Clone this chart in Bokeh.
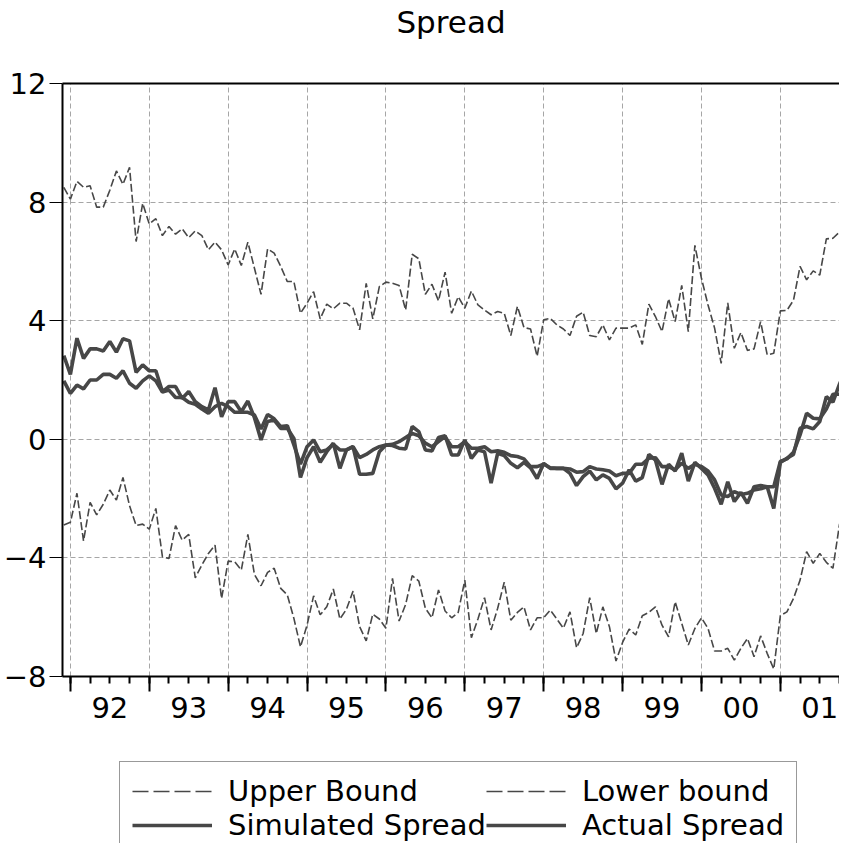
import pandas as pd
from bokeh.plotting import figure
from bokeh.layouts import column
from bokeh.models import (LinearAxis, FixedTicker, Grid, Range1d, Legend,
                          LegendItem)
from bokeh.embed import file_html
from bokeh.resources import INLINE

# ---------------- data (monthly, Dec 1991 .. Nov 2001) ----------------
start_month = "1991-12"

upper_bound = [
    8.5, 8.1, 8.7, 8.5, 8.55, 7.83, 7.83, 8.4, 9.05, 8.6, 9.17, 6.67, 7.96,
    7.26, 7.44, 6.87, 7.18, 6.92, 7.1, 6.8, 7.03, 6.87, 6.39, 6.65, 6.39,
    5.88, 6.42, 5.86, 6.65, 5.77, 4.89, 6.42, 6.28, 5.83, 5.32, 5.32, 4.25,
    4.59, 4.98, 4.06, 4.56, 4.4, 4.59, 4.59, 4.42, 3.69, 5.26, 4.06, 5.15,
    5.3, 5.26, 5.19, 4.36, 6.24, 6.09, 4.89, 5.23, 4.67, 5.64, 4.25, 4.81,
    4.42, 5.0, 4.53, 4.36, 4.2, 4.31, 4.25, 3.5, 4.48, 3.77, 3.72, 2.8,
    4.03, 4.08, 3.86, 3.72, 3.5, 4.15, 4.29, 3.5, 3.46, 3.86, 3.35, 3.75,
    3.75, 3.75, 3.86, 3.2, 4.56, 4.14, 3.63, 4.74, 3.97, 5.19, 3.63, 6.54,
    5.43, 4.53, 3.75, 2.56, 4.6, 3.07, 3.6, 3.0, 3.05, 3.97, 2.85, 2.9,
    4.33, 4.35, 4.69, 5.83, 5.38, 5.68, 5.54, 6.76, 6.78, 6.99, 7.23,
]

lower_bound = [
    -2.89, -2.8, -1.82, -3.43, -2.13, -2.55, -2.19, -1.71, -2.05, -1.29,
    -2.24, -2.91, -2.86, -3.03, -2.33, -3.96, -4.02, -2.91, -3.4, -3.21,
    -4.67, -4.24, -3.85, -3.57, -5.37, -4.11, -4.13, -4.41, -3.21, -4.56,
    -4.94, -4.49, -4.35, -5.03, -5.25, -6.04, -7.0, -6.27, -5.28, -5.92,
    -5.65, -5.05, -6.06, -5.73, -5.12, -6.32, -6.8, -5.9, -6.06, -6.37,
    -4.69, -6.13, -5.57, -4.6, -4.78, -5.7, -6.02, -5.08, -5.79, -6.02,
    -5.84, -4.75, -6.69, -6.06, -5.34, -6.43, -5.7, -4.82, -6.1, -5.84,
    -5.65, -6.43, -6.02, -6.02, -5.76, -6.06, -6.37, -5.82, -7.03, -6.55,
    -5.34, -6.55, -5.65, -6.32, -7.48, -6.85, -6.4, -6.6, -5.95, -5.84,
    -5.65, -6.27, -6.66, -5.48, -6.21, -6.94, -6.38, -6.02, -6.38, -7.14,
    -7.14, -7.05, -7.45, -7.05, -6.72, -7.33, -6.63, -7.22, -7.75, -5.95,
    -5.82, -5.37, -4.75, -3.79, -4.18, -3.85, -4.15, -4.35, -2.87, -2.33,
]

actual_spread = [
    2.82, 2.19, 3.41, 2.73, 3.05, 3.05, 2.98, 3.3, 2.94, 3.39, 3.32, 2.26,
    2.51, 2.31, 2.31, 1.61, 1.78, 1.78, 1.38, 1.61, 1.27, 1.1, 0.99, 1.74,
    0.76, 1.27, 1.27, 0.93, 1.29, 0.73, -0.02, 0.6, 0.65, 0.37, 0.37, 0.03,
    -1.29, -0.62, -0.25, -0.78, -0.42, -0.13, -0.98, -0.36, -0.25, -1.18,
    -1.18, -1.15, -0.42, -0.19, -0.21, -0.3, -0.33, 0.43, 0.26, -0.36,
    -0.39, 0.06, 0.12, -0.53, -0.53, -0.02, -0.64, -0.36, -0.42, -1.48,
    -0.47, -0.55, -0.81, -0.96, -0.78, -0.96, -1.32, -0.81, -0.98, -0.98,
    -0.98, -1.15, -1.56, -1.26, -1.07, -1.37, -1.2, -1.32, -1.67, -1.48,
    -1.03, -1.41, -1.29, -0.51, -0.7, -1.52, -0.84, -1.07, -0.47, -1.41,
    -0.78, -0.98, -1.2, -1.65, -2.19, -1.43, -2.1, -1.79, -2.16, -1.6,
    -1.56, -1.6, -2.33, -0.78, -0.64, -0.51, 0.37, 0.43, 0.35, 0.6, 1.44,
    1.25, 1.86, 2.4,
]

simulated_spread = [
    1.97, 1.55, 1.83, 1.7, 2.0, 2.0, 2.19, 2.19, 2.06, 2.31, 1.89, 1.72,
    1.97, 2.14, 1.97, 1.59, 1.66, 1.41, 1.41, 1.25, 1.18, 1.02, 0.88, 1.1,
    1.21, 1.1, 0.91, 0.91, 0.91, 0.82, 0.35, 0.84, 0.69, 0.43, 0.46, -0.19,
    -0.84, -0.25, -0.02, -0.42, -0.36, -0.17, -0.36, -0.36, -0.25, -0.62,
    -0.51, -0.36, -0.25, -0.19, -0.17, -0.08, 0.06, 0.2, 0.12, -0.13,
    -0.25, -0.08, 0.09, -0.25, -0.25, -0.08, -0.3, -0.3, -0.25, -0.42,
    -0.39, -0.44, -0.55, -0.58, -0.66, -0.92, -0.92, -0.84, -0.96, -0.98,
    -0.98, -1.0, -1.11, -1.09, -0.92, -1.0, -1.03, -1.07, -1.23, -1.15,
    -1.15, -0.84, -0.84, -0.64, -0.62, -0.92, -0.92, -1.03, -0.81, -0.98,
    -0.84, -0.92, -1.07, -1.37, -1.88, -1.93, -1.77, -1.86, -1.82, -1.71,
    -1.67, -1.6, -1.6, -0.75, -0.66, -0.44, 0.15, 0.88, 0.71, 0.69, 1.02,
    1.52, 1.52, 1.52,
]

year_labels = ["92", "93", "94", "95", "96", "97", "98", "99", "00", "01"]
y_ticks = [-8, -4, 0, 4, 8, 12]
legend_labels = ["Upper Bound", "Lower bound", "Simulated Spread", "Actual Spread"]

# month index relative to Jan 1992
dates = pd.period_range(start_month, periods=len(upper_bound), freq="M")
x = [(d.year - 1992) * 12 + (d.month - 1) for d in dates]
year_starts = [12 * i for i in range(len(year_labels))]
quarters = [3 * i for i in range(0, 4 * len(year_labels))]
year_mids = [s + 6 for s in year_starts]

FONT = "DejaVu Sans"
LINE = "#474747"
GRID = "#a6a6a6"
DASHED = dict(line_color=LINE, line_width=1.6, line_dash="8 3")
SOLID = dict(line_color=LINE, line_width=3.6)
LEG_DASHED = dict(line_color=LINE, line_width=1.6, line_dash="16 5")
series = [upper_bound, lower_bound, simulated_spread, actual_spread]
styles = [DASHED, DASHED, SOLID, SOLID]
legend_styles = [LEG_DASHED, LEG_DASHED, SOLID, SOLID]

# ======================= main chart =======================
p = figure(frame_width=777, frame_height=593, output_backend="svg",
           toolbar_location=None, x_axis_location=None, y_axis_location=None,
           x_range=Range1d(-1.2, 117.0), y_range=Range1d(-8, 12),
           min_border_left=53, min_border_right=0, min_border_top=74,
           min_border_bottom=76)
p.outline_line_color = None
p.background_fill_color = "white"
p.border_fill_color = "white"
p.center = [c for c in p.center if not isinstance(c, Grid)]

p.add_layout(Grid(dimension=0, ticker=FixedTicker(ticks=year_starts),
                  grid_line_color=GRID, grid_line_dash="5 3", grid_line_width=1))
p.add_layout(Grid(dimension=1, ticker=FixedTicker(ticks=y_ticks),
                  grid_line_color=GRID, grid_line_dash="5 3", grid_line_width=1))

# top frame line carrying the title
top = LinearAxis(ticker=FixedTicker(ticks=[], minor_ticks=[]))
top.axis_line_width = 2
top.axis_line_color = "black"
top.major_tick_line_color = None
top.minor_tick_line_color = None
top.axis_label = "Spread"
top.axis_label_text_font = FONT
top.axis_label_text_font_size = "31px"
top.axis_label_text_font_style = "normal"
top.axis_label_text_color = "black"
top.axis_label_standoff = 44
p.add_layout(top, "above")

# y axis
yax = LinearAxis(ticker=FixedTicker(ticks=y_ticks, minor_ticks=[]))
yax.axis_line_width = 2
yax.axis_line_color = "black"
yax.major_tick_out = 13
yax.major_tick_in = 0
yax.major_tick_line_width = 1
yax.major_label_standoff = 3
yax.major_label_text_font = FONT
yax.major_label_text_font_size = "29px"
yax.major_label_text_color = "black"
p.add_layout(yax, "left")

# x axis: ticks only
xax = LinearAxis(ticker=FixedTicker(ticks=year_starts, minor_ticks=quarters))
xax.axis_line_width = 2
xax.axis_line_color = "black"
xax.major_tick_out = 15
xax.major_tick_in = 0
xax.major_tick_line_width = 2
xax.minor_tick_out = 7
xax.minor_tick_in = 0
xax.minor_tick_line_width = 2
xax.major_label_text_font_size = "1px"
xax.major_label_text_color = None
xax.major_label_standoff = 0
p.add_layout(xax, "below")

# x axis: year labels centred in each year
xlab = LinearAxis(ticker=FixedTicker(ticks=year_mids, minor_ticks=[]))
xlab.axis_line_color = None
xlab.major_tick_line_color = None
xlab.major_tick_out = 0
xlab.major_tick_in = 0
xlab.major_label_standoff = 5
xlab.major_label_overrides = {m: lab for m, lab in zip(year_mids, year_labels)}
xlab.major_label_text_font = FONT
xlab.major_label_text_font_size = "29px"
xlab.major_label_text_color = "black"
p.add_layout(xlab, "below")

for ys, st in zip(series, styles):
    p.line(x, ys, **st)

# ======================= legend strip =======================
# same series, drawn outside this strip's (empty) view so only the legend shows
q = figure(width=830, height=91, output_backend="svg", title=None,
           toolbar_location=None, x_axis_location=None, y_axis_location=None,
           x_range=Range1d(-1.2, 117.0), y_range=Range1d(100, 101),
           min_border=0, min_border_left=0, min_border_right=0,
           min_border_top=0, min_border_bottom=0)
q.outline_line_color = None
q.center = [c for c in q.center if not isinstance(c, Grid)]
items = []
for lab, ys, st in zip(legend_labels, series, legend_styles):
    r = q.line(x, ys, **st)
    items.append(LegendItem(label=lab, renderers=[r]))

legend = Legend(items=items, orientation="horizontal", ncols=2,
                location=(57, -12))
legend.label_text_font = FONT
legend.label_text_font_size = "29px"
legend.label_text_color = "black"
legend.glyph_width = 80
legend.glyph_height = 30
legend.label_standoff = 16
legend.label_height = 30
legend.padding = 12
legend.spacing = 0
legend.margin = 0
legend.border_line_color = "#333333"
legend.border_line_width = 1
legend.background_fill_color = "white"
legend.background_fill_alpha = 1
q.add_layout(legend, "center")

open("out.html", "w").write(file_html(column(p, q, spacing=0), INLINE))
